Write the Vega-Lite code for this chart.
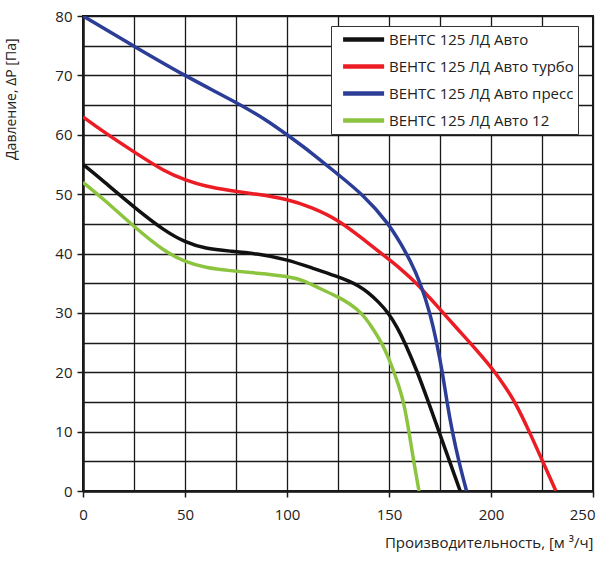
{
  "$schema": "https://vega.github.io/schema/vega-lite/v6.json",
  "autosize": {"type": "none"},
  "padding": {"left": 83, "top": 16, "right": 7, "bottom": 75},
  "width": 510,
  "height": 475,
  "background": "white",
  "view": {"stroke": "#1a1a1a", "strokeWidth": 2},
  "config": {
    "font": "Open Sans",
    "axis": {
      "domainColor": "#1a1a1a",
      "domainWidth": 2.5,
      "gridColor": "#1a1a1a",
      "gridWidth": 1.3,
      "gridOpacity": 1,
      "tickColor": "#1a1a1a",
      "tickWidth": 1.5,
      "tickSize": 6,
      "labelColor": "#222",
      "labelFontSize": 15,
      "titleColor": "#222",
      "titleFontSize": 15,
      "titleFontWeight": "normal",
      "labelFlush": false
    }
  },
  "data": {
    "values": [
      {"series": "ВЕНТС 125 ЛД Авто", "q": 0, "p": 55},
      {"series": "ВЕНТС 125 ЛД Авто", "q": 10, "p": 52.2},
      {"series": "ВЕНТС 125 ЛД Авто", "q": 25, "p": 47.8},
      {"series": "ВЕНТС 125 ЛД Авто", "q": 40, "p": 43.8},
      {"series": "ВЕНТС 125 ЛД Авто", "q": 50, "p": 41.9},
      {"series": "ВЕНТС 125 ЛД Авто", "q": 60, "p": 40.8},
      {"series": "ВЕНТС 125 ЛД Авто", "q": 72, "p": 40.4},
      {"series": "ВЕНТС 125 ЛД Авто", "q": 85, "p": 40},
      {"series": "ВЕНТС 125 ЛД Авто", "q": 100, "p": 39},
      {"series": "ВЕНТС 125 ЛД Авто", "q": 112, "p": 37.6},
      {"series": "ВЕНТС 125 ЛД Авто", "q": 125, "p": 36.1},
      {"series": "ВЕНТС 125 ЛД Авто", "q": 130, "p": 35.4},
      {"series": "ВЕНТС 125 ЛД Авто", "q": 135, "p": 34.6},
      {"series": "ВЕНТС 125 ЛД Авто", "q": 140, "p": 33.4},
      {"series": "ВЕНТС 125 ЛД Авто", "q": 145, "p": 31.8},
      {"series": "ВЕНТС 125 ЛД Авто", "q": 149.7, "p": 30},
      {"series": "ВЕНТС 125 ЛД Авто", "q": 154, "p": 27.6},
      {"series": "ВЕНТС 125 ЛД Авто", "q": 157.8, "p": 25},
      {"series": "ВЕНТС 125 ЛД Авто", "q": 164, "p": 20},
      {"series": "ВЕНТС 125 ЛД Авто", "q": 169.3, "p": 15},
      {"series": "ВЕНТС 125 ЛД Авто", "q": 174.5, "p": 10},
      {"series": "ВЕНТС 125 ЛД Авто", "q": 179.7, "p": 5},
      {"series": "ВЕНТС 125 ЛД Авто", "q": 184.9, "p": 0},
      {"series": "ВЕНТС 125 ЛД Авто турбо", "q": 0, "p": 63},
      {"series": "ВЕНТС 125 ЛД Авто турбо", "q": 10, "p": 60.5},
      {"series": "ВЕНТС 125 ЛД Авто турбо", "q": 25, "p": 57.1},
      {"series": "ВЕНТС 125 ЛД Авто турбо", "q": 40, "p": 53.8},
      {"series": "ВЕНТС 125 ЛД Авто турбо", "q": 50, "p": 52.4},
      {"series": "ВЕНТС 125 ЛД Авто турбо", "q": 60, "p": 51.3},
      {"series": "ВЕНТС 125 ЛД Авто турбо", "q": 72, "p": 50.6},
      {"series": "ВЕНТС 125 ЛД Авто турбо", "q": 85, "p": 50},
      {"series": "ВЕНТС 125 ЛД Авто турбо", "q": 100, "p": 49.2},
      {"series": "ВЕНТС 125 ЛД Авто турбо", "q": 112, "p": 47.8},
      {"series": "ВЕНТС 125 ЛД Авто турбо", "q": 125, "p": 45.7},
      {"series": "ВЕНТС 125 ЛД Авто турбо", "q": 137, "p": 42.5},
      {"series": "ВЕНТС 125 ЛД Авто турбо", "q": 150, "p": 39},
      {"series": "ВЕНТС 125 ЛД Авто турбо", "q": 155.4, "p": 37.5},
      {"series": "ВЕНТС 125 ЛД Авто турбо", "q": 163.6, "p": 35},
      {"series": "ВЕНТС 125 ЛД Авто турбо", "q": 170, "p": 32.5},
      {"series": "ВЕНТС 125 ЛД Авто турбо", "q": 176.6, "p": 30},
      {"series": "ВЕНТС 125 ЛД Авто турбо", "q": 183, "p": 27.5},
      {"series": "ВЕНТС 125 ЛД Авто турбо", "q": 189.7, "p": 25},
      {"series": "ВЕНТС 125 ЛД Авто турбо", "q": 196, "p": 22.5},
      {"series": "ВЕНТС 125 ЛД Авто турбо", "q": 202, "p": 20},
      {"series": "ВЕНТС 125 ЛД Авто турбо", "q": 207, "p": 17.5},
      {"series": "ВЕНТС 125 ЛД Авто турбо", "q": 211.8, "p": 15},
      {"series": "ВЕНТС 125 ЛД Авто турбо", "q": 218.8, "p": 10},
      {"series": "ВЕНТС 125 ЛД Авто турбо", "q": 225.3, "p": 5},
      {"series": "ВЕНТС 125 ЛД Авто турбо", "q": 231.8, "p": 0},
      {"series": "ВЕНТС 125 ЛД Авто пресс", "q": 0, "p": 80},
      {"series": "ВЕНТС 125 ЛД Авто пресс", "q": 25, "p": 74.9},
      {"series": "ВЕНТС 125 ЛД Авто пресс", "q": 50, "p": 69.9},
      {"series": "ВЕНТС 125 ЛД Авто пресс", "q": 75, "p": 65.5},
      {"series": "ВЕНТС 125 ЛД Авто пресс", "q": 90, "p": 62.5},
      {"series": "ВЕНТС 125 ЛД Авто пресс", "q": 100, "p": 60},
      {"series": "ВЕНТС 125 ЛД Авто пресс", "q": 112, "p": 57},
      {"series": "ВЕНТС 125 ЛД Авто пресс", "q": 125, "p": 53.3},
      {"series": "ВЕНТС 125 ЛД Авто пресс", "q": 137, "p": 50},
      {"series": "ВЕНТС 125 ЛД Авто пресс", "q": 150, "p": 45},
      {"series": "ВЕНТС 125 ЛД Авто пресс", "q": 156, "p": 41.5},
      {"series": "ВЕНТС 125 ЛД Авто пресс", "q": 160.3, "p": 38.9},
      {"series": "ВЕНТС 125 ЛД Авто пресс", "q": 165.5, "p": 35},
      {"series": "ВЕНТС 125 ЛД Авто пресс", "q": 170.1, "p": 30},
      {"series": "ВЕНТС 125 ЛД Авто пресс", "q": 173.4, "p": 25},
      {"series": "ВЕНТС 125 ЛД Авто пресс", "q": 176.2, "p": 20},
      {"series": "ВЕНТС 125 ЛД Авто пресс", "q": 178.4, "p": 15},
      {"series": "ВЕНТС 125 ЛД Авто пресс", "q": 181, "p": 10},
      {"series": "ВЕНТС 125 ЛД Авто пресс", "q": 184.2, "p": 5},
      {"series": "ВЕНТС 125 ЛД Авто пресс", "q": 188, "p": 0},
      {"series": "ВЕНТС 125 ЛД Авто 12", "q": 0, "p": 52},
      {"series": "ВЕНТС 125 ЛД Авто 12", "q": 10, "p": 49.2},
      {"series": "ВЕНТС 125 ЛД Авто 12", "q": 25, "p": 44.5},
      {"series": "ВЕНТС 125 ЛД Авто 12", "q": 40, "p": 40.3},
      {"series": "ВЕНТС 125 ЛД Авто 12", "q": 50, "p": 38.6},
      {"series": "ВЕНТС 125 ЛД Авто 12", "q": 60, "p": 37.6},
      {"series": "ВЕНТС 125 ЛД Авто 12", "q": 72, "p": 37.1},
      {"series": "ВЕНТС 125 ЛД Авто 12", "q": 85, "p": 36.7},
      {"series": "ВЕНТС 125 ЛД Авто 12", "q": 100, "p": 36.2},
      {"series": "ВЕНТС 125 ЛД Авто 12", "q": 108, "p": 35.5},
      {"series": "ВЕНТС 125 ЛД Авто 12", "q": 116, "p": 34.1},
      {"series": "ВЕНТС 125 ЛД Авто 12", "q": 125, "p": 32.7},
      {"series": "ВЕНТС 125 ЛД Авто 12", "q": 131, "p": 31.5},
      {"series": "ВЕНТС 125 ЛД Авто 12", "q": 136.6, "p": 30},
      {"series": "ВЕНТС 125 ЛД Авто 12", "q": 141.5, "p": 27.7},
      {"series": "ВЕНТС 125 ЛД Авто 12", "q": 146.4, "p": 25},
      {"series": "ВЕНТС 125 ЛД Авто 12", "q": 149.7, "p": 22.5},
      {"series": "ВЕНТС 125 ЛД Авто 12", "q": 152.5, "p": 20},
      {"series": "ВЕНТС 125 ЛД Авто 12", "q": 155, "p": 17.5},
      {"series": "ВЕНТС 125 ЛД Авто 12", "q": 157.2, "p": 15},
      {"series": "ВЕНТС 125 ЛД Авто 12", "q": 159.8, "p": 10},
      {"series": "ВЕНТС 125 ЛД Авто 12", "q": 162.1, "p": 5},
      {"series": "ВЕНТС 125 ЛД Авто 12", "q": 164.7, "p": 0}
    ]
  },
  "mark": {"type": "line", "interpolate": "basis", "strokeWidth": 3.5, "clip": true},
  "encoding": {
    "x": {
      "field": "q",
      "type": "quantitative",
      "scale": {"domain": [0, 250], "nice": false, "zero": true},
      "axis": {
        "title": "Производительность, [м ³/ч]",
        "titleAnchor": "end",
        "titlePadding": 13,
        "values": [0, 25, 50, 75, 100, 125, 150, 175, 200, 225, 250],
        "labelExpr": "datum.value % 50 == 0 ? datum.label : ''",
        "labelPadding": 10,
        "labelAlign": {"condition": {"test": "datum.value == 250", "value": "right"}, "value": "center"},
        "labelOffset": {"condition": {"test": "datum.value == 250", "value": 2}, "value": 0},
        "tickOpacity": {"condition": {"test": "datum.value % 50 == 0", "value": 1}, "value": 0}
      }
    },
    "y": {
      "field": "p",
      "type": "quantitative",
      "scale": {"domain": [0, 80], "nice": false},
      "axis": {
        "title": "Давление, ΔP [Па]",
        "titleFontSize": 14,
        "titleAnchor": "end",
        "titleAlign": "right",
        "titleY": 22,
        "titlePadding": 36,
        "values": [0, 5, 10, 15, 20, 25, 30, 35, 40, 45, 50, 55, 60, 65, 70, 75, 80],
        "labelExpr": "datum.value % 10 == 0 ? datum.label : ''",
        "labelPadding": 5,
        "tickOpacity": {"condition": {"test": "datum.value % 10 == 0", "value": 1}, "value": 0}
      }
    },
    "color": {
      "field": "series",
      "type": "nominal",
      "sort": ["ВЕНТС 125 ЛД Авто", "ВЕНТС 125 ЛД Авто турбо", "ВЕНТС 125 ЛД Авто пресс", "ВЕНТС 125 ЛД Авто 12"],
      "scale": {
        "domain": ["ВЕНТС 125 ЛД Авто", "ВЕНТС 125 ЛД Авто турбо", "ВЕНТС 125 ЛД Авто пресс", "ВЕНТС 125 ЛД Авто 12"],
        "range": ["#111111", "#ec1c24", "#2b3d97", "#8cc43f"]
      },
      "legend": {
        "title": null,
        "orient": "none",
        "legendX": 248,
        "legendY": 10,
        "fillColor": "white",
        "strokeColor": "#333",
        "padding": 4,
        "symbolType": "M-0.2,0H5.66",
        "symbolSize": 196,
        "symbolStrokeWidth": 4.5,
        "labelOffset": 35,
        "labelFontSize": 15,
        "labelColor": "#222",
        "labelLimit": 300,
        "rowPadding": 8
      }
    }
  }
}
